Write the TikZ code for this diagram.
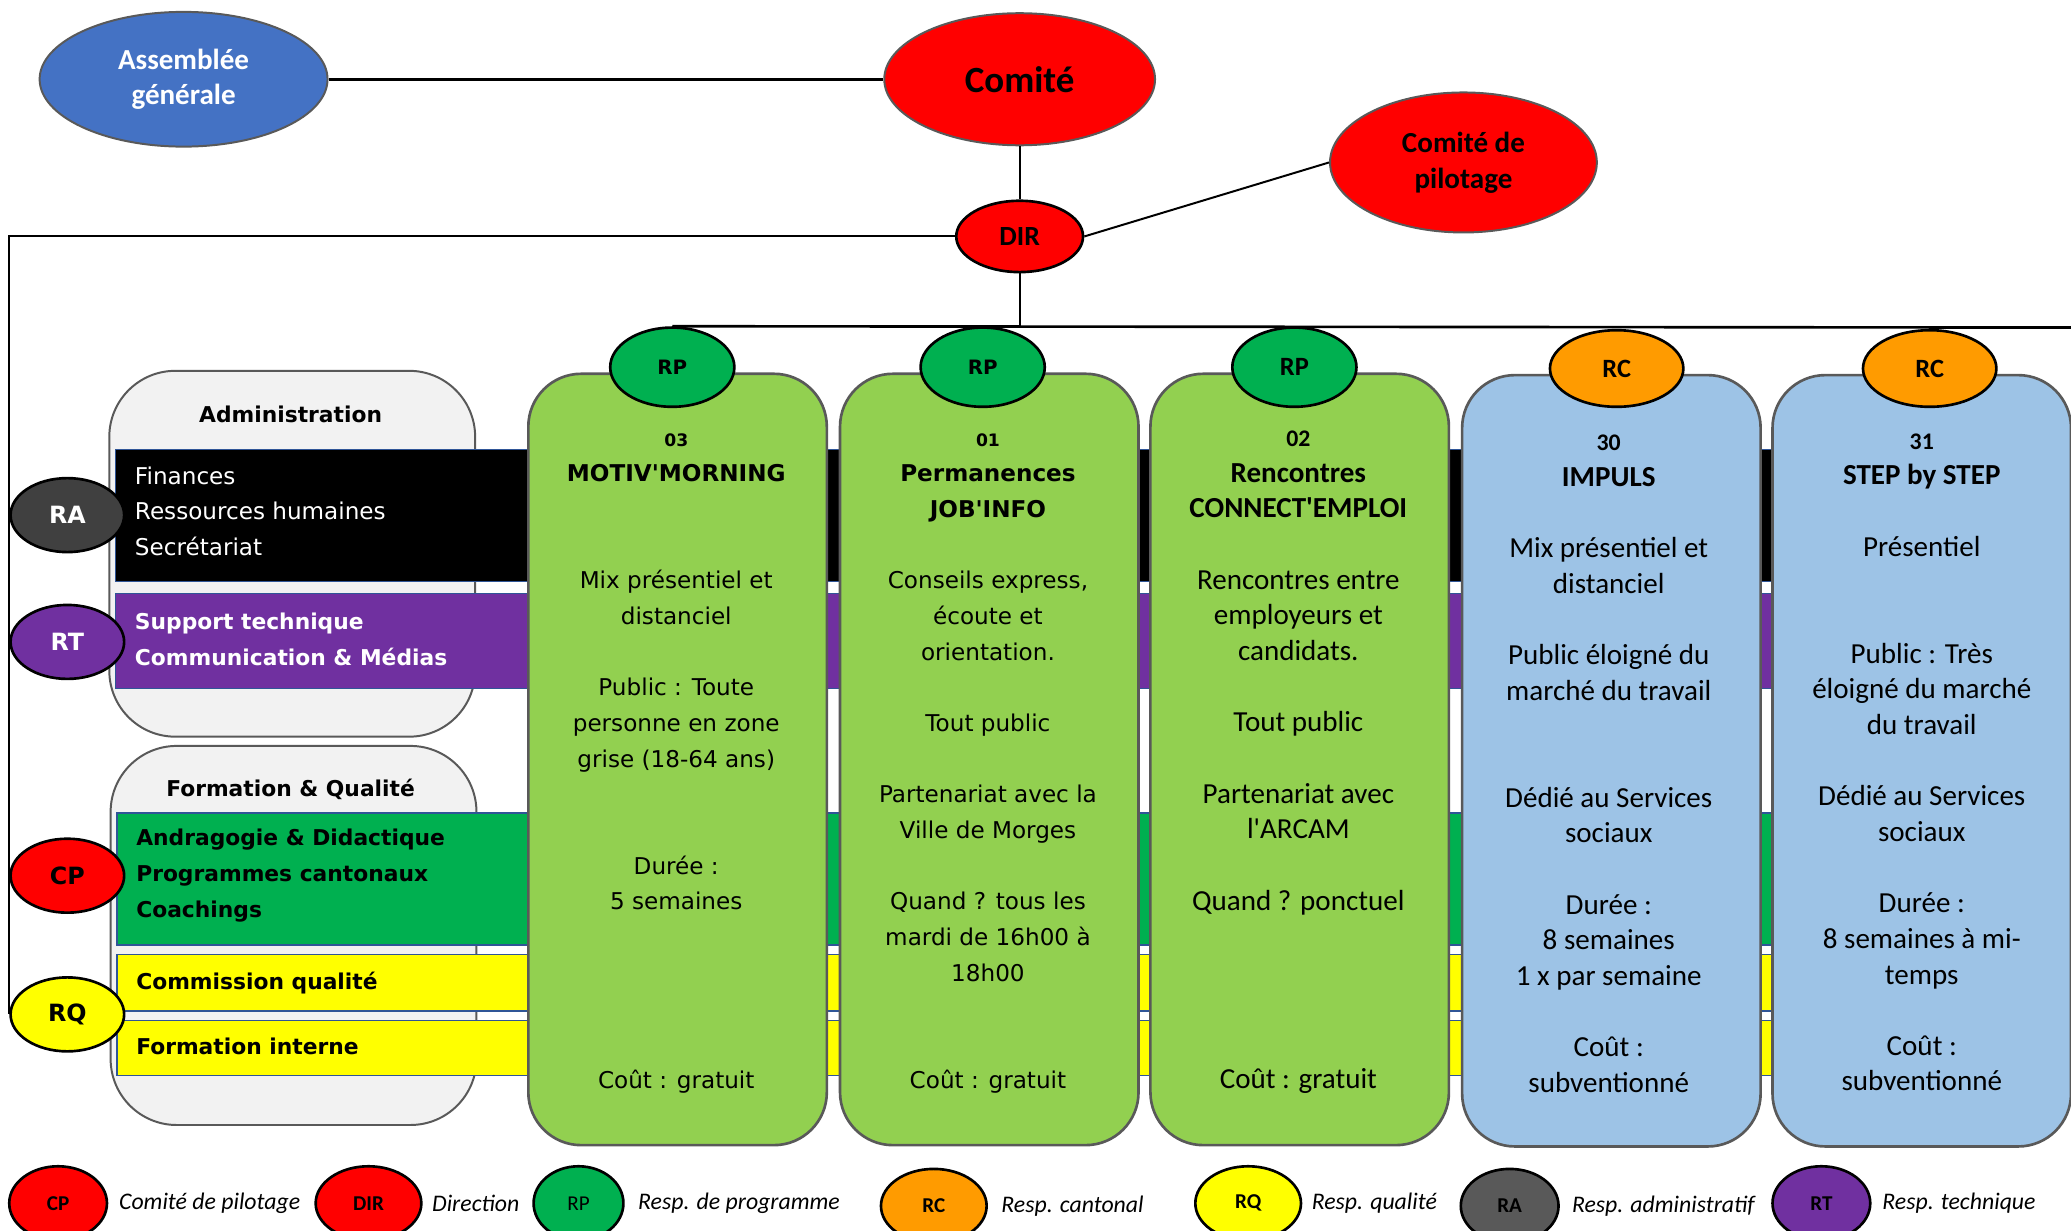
\documentclass[tikz,border=0pt]{standalone}
\usepackage{fontspec}
\setmainfont{Carlito}
\newfontfamily\verd{DejaVu Sans}
\usetikzlibrary{shapes.geometric,positioning}
\definecolor{agblue}{HTML}{4472C4}
\definecolor{cred}{HTML}{FF0000}
\definecolor{rpgreen}{HTML}{00B050}
\definecolor{rcorange}{HTML}{FF9B00}
\definecolor{rqyellow}{HTML}{FFFF00}
\definecolor{ragray}{HTML}{404040}
\definecolor{ragraylt}{HTML}{595959}
\definecolor{rtpurple}{HTML}{7030A0}
\definecolor{colgreen}{HTML}{92D050}
\definecolor{colblue}{HTML}{9DC3E6}
\definecolor{panelgray}{HTML}{F2F2F2}
\definecolor{edgegray}{HTML}{595959}
\definecolor{bandedge}{HTML}{2F5597}
\begin{document}
\begin{tikzpicture}[x=1pt, y=-1pt,
      bubble/.style = {draw=edgegray, line width=1.5, ellipse, inner sep=0, align=center,
                       font=\bfseries\fontsize{22}{27}\selectfont},
      role/.style = {draw=black, line width=2, ellipse, inner sep=0, minimum width=86,
                     minimum height=56, font=\verd\bfseries\fontsize{18}{22}\selectfont},
      legbubble/.style = {draw=black, line width=2, ellipse, inner sep=0, minimum height=56,
                          font=\bfseries\fontsize{16}{20}\selectfont},
      legtext/.style = {inner sep=0, font=\itshape\fontsize{18}{22}\selectfont},
      panel/.style = {draw=edgegray, line width=1.5, fill=panelgray, rounded corners=50,
                      minimum width=277, anchor=north west},
      paneltitle/.style = {inner sep=0, font=\verd\bfseries\fontsize{16.5}{20}\selectfont},
      band/.style = {draw=bandedge, line width=1, anchor=north west, minimum width=1470, inner sep=0},
      bandtext/.style = {anchor=west, align=left, inner sep=0, font=\verd\fontsize{17.5}{27}\selectfont},
      bandbold/.style = {bandtext, font=\verd\bfseries\fontsize{16.5}{27}\selectfont},
      prog/.style = {draw=edgegray, line width=2, rounded corners=40, minimum width=226,
                     minimum height=584, anchor=north west, inner sep=0},
      progtext/.style = {anchor=north, align=center, inner sep=0, font=\fontsize{22}{27}\selectfont},
      progverd/.style = {progtext, font=\verd\fontsize{17.5}{27}\selectfont},
      link/.style = {draw=black, line width=1.5}]
    \useasboundingbox (0,0) rectangle (1568,932);

    % left panels
    \node[panel, minimum height=277] (admpanel) at (82,280) {};
    \node[panel, minimum height=287] (fqpanel) at (83,564) {};
    \node[paneltitle] (admtitle) at (220,314) {Administration};
    \node[paneltitle] (fqtitle) at (220,598) {Formation \& Qualité};

    % bands
    \node[band, fill=black, minimum height=100] (adm) at (87,340) {};
    \node[band, fill=rtpurple, minimum height=72] (tech) at (87,449) {};
    \node[band, fill=rpgreen, minimum height=100] (form) at (88,615) {};
    \node[band, fill=rqyellow, minimum height=43] (qual) at (88,722) {};
    \node[band, fill=rqyellow, minimum height=42] (intern) at (88,772) {};
    \node[bandtext, text=white] (admtext) at (102,387) {Finances\\Ressources humaines\\Secrétariat};
    \node[bandbold, text=white] (techtext) at (102,484) {Support technique\\Communication \& Médias};
    \node[bandbold] (formtext) at (103,663) {Andragogie \& Didactique\\Programmes cantonaux\\Coachings};
    \node[bandbold] (qualtext) at (103,744) {Commission qualité};
    \node[bandbold] (interntext) at (103,792) {Formation interne};

    % programmes
    \node[prog, fill=colgreen] (col1) at (399,282) {};
    \node[prog, fill=colgreen] (col2) at (635,282) {};
    \node[prog, fill=colgreen] (col3) at (870,282) {};
    \node[prog, fill=colblue] (col4) at (1106,283) {};
    \node[prog, fill=colblue] (col5) at (1341,283) {};

    \node[progverd] (text1) at (512,328) {{\bfseries\fontsize{13}{27}\selectfont 03}\\
      {\bfseries MOTIV\textquotesingle MORNING}\\[54pt]
      Mix présentiel et\\distanciel\\[27pt]
      Public : Toute\\personne en zone\\grise (18-64 ans)\\[54pt]
      Durée :\\5 semaines\\[108pt]
      Coût : gratuit};
    \node[progverd] (text2) at (748,328) {{\bfseries\fontsize{13}{27}\selectfont 01}\\
      {\bfseries Permanences}\\{\bfseries JOB\textquotesingle INFO}\\[27pt]
      Conseils express,\\écoute et\\orientation.\\[27pt]
      Tout public\\[27pt]
      Partenariat avec la\\Ville de Morges\\[27pt]
      Quand ? tous les\\mardi de 16h00 à\\18h00\\[54pt]
      Coût : gratuit};
    \node[progtext] (text3) at (983,326) {{\bfseries\fontsize{18}{27}\selectfont 02}\\
      {\bfseries Rencontres}\\{\bfseries CONNECT\textquotesingle EMPLOI}\\[27pt]
      Rencontres entre\\employeurs et\\candidats.\\[27pt]
      Tout public\\[27pt]
      Partenariat avec\\l\textquotesingle ARCAM\\[27pt]
      Quand ? ponctuel\\[108pt]
      Coût : gratuit};
    \node[progtext] (text4) at (1218,329) {{\bfseries\fontsize{18}{27}\selectfont 30}\\
      {\bfseries IMPULS}\\[27pt]
      Mix présentiel et\\distanciel\\[27pt]
      Public éloigné du\\marché du travail\\[54pt]
      Dédié au Services\\sociaux\\[27pt]
      Durée :\\8 semaines\\1 x par semaine\\[27pt]
      Coût :\\subventionné};
    \node[progtext] (text5) at (1455,328) {{\bfseries\fontsize{18}{27}\selectfont 31}\\
      {\bfseries STEP by STEP}\\[27pt]
      Présentiel\\[54pt]
      Public : Très\\éloigné du marché\\du travail\\[27pt]
      Dédié au Services\\sociaux\\[27pt]
      Durée :\\8 semaines à mi-\\temps\\[27pt]
      Coût :\\subventionné};

    % managers of the programmes
    \node[role, fill=rpgreen, minimum width=94, minimum height=60, font=\verd\bfseries\fontsize{15}{18}\selectfont] (rp1) at (509,278) {RP};
    \node[role, fill=rpgreen, minimum width=94, minimum height=60, font=\verd\bfseries\fontsize{15}{18}\selectfont] (rp2) at (744,278) {RP};
    \node[role, fill=rpgreen, minimum width=94, minimum height=60, font=\bfseries\fontsize{20}{24}\selectfont] (rp3) at (980,278) {RP};
    \node[role, fill=rcorange, minimum width=101, minimum height=58, font=\bfseries\fontsize{20}{24}\selectfont] (rc1) at (1224,279) {RC};
    \node[role, fill=rcorange, minimum width=101, minimum height=58, font=\bfseries\fontsize{20}{24}\selectfont] (rc2) at (1461,279) {RC};

    % top of the chart
    \node[bubble, fill=agblue, text=white, minimum width=218, minimum height=102] (ag) at (139,60) {Assemblée\\générale};
    \node[bubble, fill=cred, minimum width=205, minimum height=100, font=\bfseries\fontsize{28}{32}\selectfont] (comite) at (772,60) {Comité};
    \node[role, fill=cred, minimum width=96, minimum height=54, font=\bfseries\fontsize{21}{24}\selectfont] (dir) at (772,179) {DIR};
    \node[bubble, fill=cred, minimum width=202, minimum height=106] (copil) at (1108,123) {Comité de\\pilotage};
    \coordinate (busend) at (1568,248);

    % edges
    \draw[link, line width=2] (ag) -- (comite);
    \draw[link] (comite) -- (dir);
    \draw[link] (dir.east) -- (copil.west);
    \draw[link] (dir.south) -- (dir.south |- rp1.north);
    \draw[link, line width=2] (rp1.north) -- (busend);

    % left managers
    \node[role, fill=ragray, text=white] (ra) at (51,390) {RA};
    \node[role, fill=rtpurple, text=white] (rt) at (51,486) {RT};
    \node[role, fill=cred] (cp) at (51,663) {CP};
    \node[role, fill=rqyellow] (rq) at (51,768) {RQ};
    \draw[link] (dir.west) -| (rq.west);

    % legend
    \node[legbubble, fill=cred, minimum width=74] (lcp) at (44,911) {CP};
    \node[legtext, right=8pt of lcp] (tcp) {Comité de pilotage};
    \node[legbubble, fill=cred, minimum width=80] (ldir) at (279,911) {DIR};
    \node[legtext, right=7pt of ldir] (tdir) {Direction};
    \node[legbubble, fill=rpgreen, minimum width=68, font=\fontsize{16}{20}\selectfont] (lrp) at (438,911) {RP};
    \node[legtext, right=10pt of lrp] (trp) {Resp. de programme};
    \node[legbubble, fill=rcorange, minimum width=80] (lrc) at (707,913) {RC};
    \node[legtext, right=10pt of lrc] (trc) {Resp. cantonal};
    \node[legbubble, fill=rqyellow, minimum width=80] (lrq) at (945,911) {RQ};
    \node[legtext, right=7pt of lrq] (trq) {Resp. qualité};
    \node[legbubble, fill=ragraylt, minimum width=74] (lra) at (1143,913) {RA};
    \node[legtext, right=9pt of lra] (tra) {Resp. administratif};
    \node[legbubble, fill=rtpurple, minimum width=74] (lrt) at (1379,911) {RT};
    \node[legtext, right=8pt of lrt] (trt) {Resp. technique};
  \end{tikzpicture}
\end{document}
